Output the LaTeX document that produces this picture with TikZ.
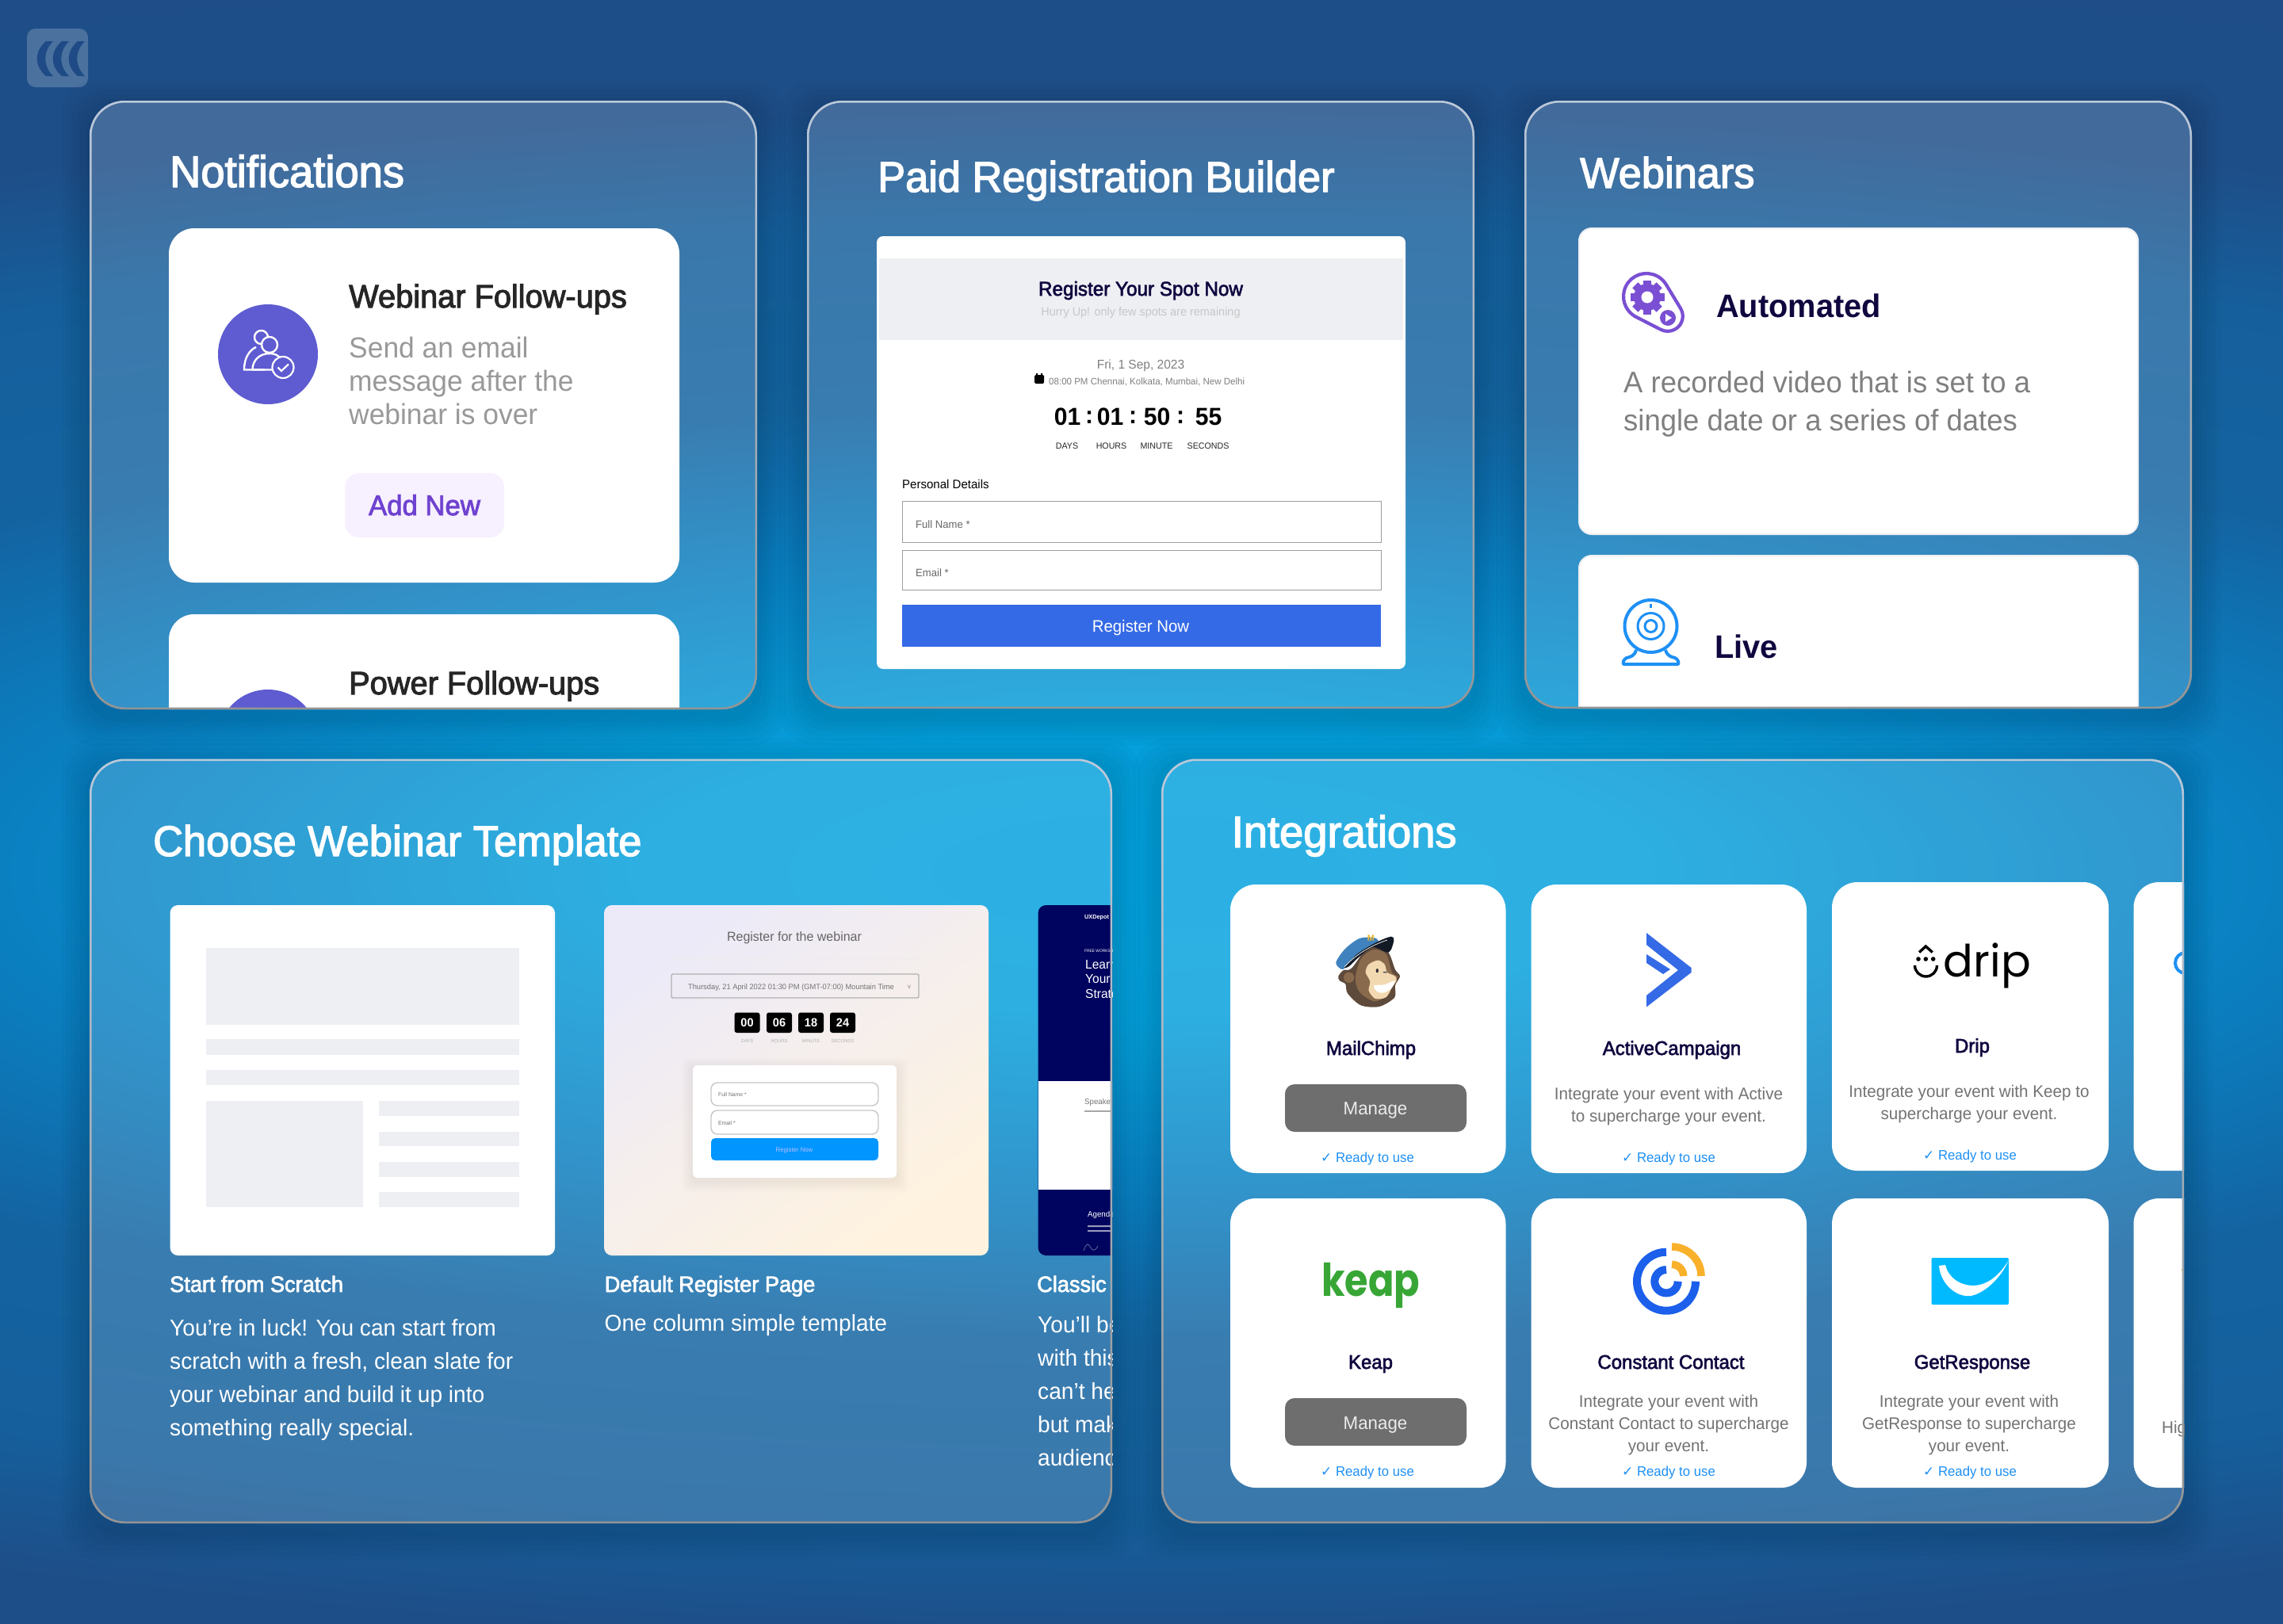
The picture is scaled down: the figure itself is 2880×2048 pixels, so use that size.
\documentclass[tikz,border=0pt]{standalone}
\usepackage{fontspec}
\setmainfont[FakeStretch=0.97]{Liberation Sans}
\newfontfamily\medfont[FakeBold=2.5,FakeStretch=0.97]{Liberation Sans}
\newfontfamily\symfont{DejaVu Sans}
\newfontfamily\dripfont{Poppins}
\newfontfamily\keapfont[FakeStretch=0.84]{Poppins}
\newcommand{\fs}[1]{\fontsize{#1}{#1}\selectfont}

\definecolor{navyink}{HTML}{10073F}
\definecolor{softgrey}{HTML}{EEEFF3}
\definecolor{bandviolet}{HTML}{5F5BD1}
\definecolor{gearviolet}{HTML}{7A4FD3}
\definecolor{addviolet}{HTML}{6F42D0}
\definecolor{addtint}{HTML}{F7F0FE}
\definecolor{liveblue}{HTML}{1E90F5}
\definecolor{regblue}{HTML}{356AE6}
\definecolor{ccblue}{HTML}{1B5FEB}
\definecolor{ccgold}{HTML}{F9B02B}
\definecolor{deepnavy}{HTML}{01045E}
\definecolor{bgdark}{HTML}{1E4A85}
\definecolor{tinta}{HTML}{ECEAF8}
\definecolor{tintb}{HTML}{FFDFE1}
\definecolor{tintc}{HTML}{FFF3DF}
\definecolor{formblue}{HTML}{0095FF}
\definecolor{keapgreen}{HTML}{37A635}
\definecolor{getblue}{HTML}{00BAFF}
\definecolor{chimpcap}{HTML}{3F82BD}
\definecolor{chimpbrim}{HTML}{121A26}
\definecolor{chimpm}{HTML}{F2B729}
\definecolor{furdark}{HTML}{5E4A3B}
\definecolor{furmid}{HTML}{8A6A4C}
\definecolor{furlight}{HTML}{F3D9B1}

\pgfdeclareradialshading{backglow}{\pgfpoint{0bp}{0bp}}{
    rgb(0bp)=(0.016,0.635,0.875);
    rgb(4bp)=(0.02,0.627,0.863);
    rgb(9bp)=(0.039,0.502,0.757);
    rgb(13.3bp)=(0.078,0.388,0.631);
    rgb(18bp)=(0.082,0.373,0.612);
    rgb(21.6bp)=(0.118,0.306,0.533);
    rgb(50bp)=(0.118,0.29,0.522)}

\tikzset{
    base/.style={inner sep=0pt,anchor=base west},
    mid/.style={inner sep=0pt,anchor=base},
    panelhead/.style={base,text=white,font={\medfont\fs{54}}},
    cardhead/.style={base,text=navyink,font={\bfseries\fs{41}}},
    greyline/.style={base,text=black!40,font=\fs{36.5}},
    thumbhead/.style={base,text=white,font={\medfont\fs{28}}},
    thumbline/.style={base,text=white,font=\fs{29}},
    intname/.style={mid,text=navyink,font={\medfont\fs{24.7}}},
    intline/.style={mid,text=black!55,font=\fs{21.3}},
    ready/.style={mid,text=liveblue,font=\fs{17.3}},
    manage/.style={fill=black!57,rounded corners=12pt},
    whitecard/.style={fill=white,rounded corners=32pt},
    tplbar/.style={fill=softgrey},
    countbox/.style={fill=black,rounded corners=3pt},
    countnum/.style={inner sep=0pt,text=white,font={\bfseries\fs{15}}},
    countlab/.style={inner sep=0pt,text=black!30,font=\fs{6}},
}

\newcommand{\glasspanel}[4]{
    \foreach \d in {6,12,...,36}
        \fill[black,fill opacity=.018,even odd rule,rounded corners=44pt]
            ({#1-\d},{#2-\d+10}) rectangle ({#3+\d},{#4+\d+10}) (#1,#2) rectangle (#3,#4);
    \fill[white,fill opacity=.16,rounded corners=44pt] (#1,#2) rectangle (#3,#4);
}
\newcommand{\glassrim}[4]{
    \shade[top color=white!70!bgdark,bottom color=black!42,even odd rule]
        [rounded corners=44pt] (#1,#2) rectangle (#3,#4)
        [rounded corners=42pt] ({#1+2.5},{#2+2.5}) rectangle ({#3-2.5},{#4-2.5});
}

\begin{document}
\begin{tikzpicture}[x=1pt,y=-1pt]
    \useasboundingbox (0,0) rectangle (2880,2048);
    \begin{scope}
        \clip (0,0) rectangle (2880,2048);
        \shade[shading=backglow] (-2560,-24) rectangle (5440,2224);
    \end{scope}

    % corner mark
    \fill[white,fill opacity=.2,rounded corners=11pt] (34,36) rectangle (111,110);
    \foreach \x in {0,20,40}
        \fill[bgdark] ({58+\x},52) .. controls ({43+\x},65) and ({43+\x},83) .. ({58+\x},96)
            -- ({67+\x},96) .. controls ({54+\x},83) and ({54+\x},65) .. ({67+\x},52) -- cycle;

    % notifications
    \glasspanel{113}{127}{955}{895}
    \begin{scope}
        \clip[rounded corners=44pt] (113,127) rectangle (955,895);
        \fill[whitecard] (213,288) rectangle (857,735);
        \fill[whitecard] (213,775) rectangle (857,1222);
        \fill[bandviolet] (338,447) circle (63);
        \fill[bandviolet] (338,933) circle (63);
        \node[base,text=black!85,font={\medfont\fs{41}}] (followa) at (440,388) {Webinar Follow-ups};
        \node[base,text=black!85,font={\medfont\fs{41}}] (followb) at (440,876) {Power Follow-ups};
    \end{scope}
    \node[panelhead,font={\medfont\fs{56}}] (nothead) at (214,236) {Notifications};
    \draw[white,line width=2.4] (329.5,425.5) circle (8.5);
    \draw[white,line width=2.4] (334,466.5) -- (308,466.5) .. controls (308,450) and (316,441) .. (323,438);
    \fill[bandviolet] (340,435) circle (10);
    \draw[white,line width=2.4] (340,435) circle (10);
    \draw[white,line width=2.4] (345,466.5) -- (318.5,466.5) .. controls (318.5,455) and (327,446) .. (340,446) .. controls (346,446) and (350,448) .. (353,451);
    \fill[bandviolet] (357,463.5) circle (14);
    \draw[white,line width=2.2] (357,463.5) circle (13.5);
    \draw[white,line width=2.2] (350.5,463.5) -- (355,468) -- (364,459.5);
    \node[greyline] (senda) at (440,451) {Send an email};
    \node[greyline] (sendb) at (440,493) {message after the};
    \node[greyline] (sendc) at (440,535) {webinar is over};
    \fill[addtint,rounded corners=18pt] (435,597) rectangle (636,678);
    \node[mid,text=addviolet,font={\medfont\fs{35.8}}] (addnew) at (535.5,650) {Add New};
    \glassrim{113}{127}{955}{895}

    % paid registration
    \glasspanel{1018}{127}{1860}{894}
    \node[panelhead] (paidhead) at (1107,242) {Paid Registration Builder};
    \fill[white,rounded corners=8pt] (1106,298) rectangle (1773,844);
    \fill[softgrey] (1109,326) rectangle (1770,429);
    \node[mid,text=navyink,font={\medfont\fs{25}}] (regspot) at (1439,373) {Register Your Spot Now};
    \node[mid,text=black!22,font=\fs{14.9}] (hurry) at (1439,398) {Hurry Up! only few spots are remaining};
    \node[mid,text=black!50,font=\fs{16}] (regdate) at (1439,465) {Fri, 1 Sep, 2023};
    \fill[black,rounded corners=1.5pt] (1305,473) rectangle (1317,484);
    \fill[black] (1307,471) rectangle (1309,475) (1313,471) rectangle (1315,475);
    \node[base,text=black!50,font=\fs{11.9}] (regcity) at (1323,485) {08:00 PM Chennai, Kolkata, Mumbai, New Delhi};
    \node[mid,font={\bfseries\fs{31}}] (cda) at (1346.5,536) {01};
    \node[mid,font={\bfseries\fs{31}}] (cdb) at (1374,534) {:};
    \node[mid,font={\bfseries\fs{31}}] (cdc) at (1400.5,536) {01};
    \node[mid,font={\bfseries\fs{31}}] (cdd) at (1429,534) {:};
    \node[mid,font={\bfseries\fs{31}}] (cde) at (1459.5,536) {50};
    \node[mid,font={\bfseries\fs{31}}] (cdf) at (1489,534) {:};
    \node[mid,font={\bfseries\fs{31}}] (cdg) at (1524.5,536) {55};
    \node[mid,text=black!85,font=\fs{11}] (labda) at (1346,566) {DAYS};
    \node[mid,text=black!85,font=\fs{11}] (labho) at (1402,566) {HOURS};
    \node[mid,text=black!85,font=\fs{11}] (labmi) at (1459,566) {MINUTE};
    \node[mid,text=black!85,font=\fs{11}] (labse) at (1524,566) {SECONDS};
    \node[base,font=\fs{15.5}] (persdet) at (1138,616) {Personal Details};
    \draw[black!38,line width=1] (1138,632) rectangle (1742,684);
    \draw[black!38,line width=1] (1138,694) rectangle (1742,744);
    \node[base,text=black!60,font=\fs{13.5}] (fullname) at (1155,666) {Full Name *};
    \node[base,text=black!60,font=\fs{13.5}] (emailin) at (1155,727) {Email *};
    \fill[regblue] (1138,763) rectangle (1742,816);
    \node[mid,text=white,font=\fs{21}] (regnow) at (1439,797) {Register Now};
    \glassrim{1018}{127}{1860}{894}

    % webinars
    \glasspanel{1923}{127}{2765}{894}
    \node[panelhead] (webhead) at (1993,237) {Webinars};
    \begin{scope}
        \clip[rounded corners=44pt] (1923,127) rectangle (2765,894);
        \filldraw[fill=white,draw=softgrey,line width=2,rounded corners=16pt] (1992,288) rectangle (2697,674);
        \filldraw[fill=white,draw=softgrey,line width=2,rounded corners=16pt] (1992,701) rectangle (2697,1090);
    \end{scope}
    \begin{scope}[shift={(2077,374)},rotate=-43]
        \draw[gearviolet,line width=4.2,line join=round] (74:29) arc[start angle=74,end angle=286,radius=29]
            -- (41.8,-18.3) arc[start angle=-74,end angle=74,radius=19] -- cycle;
    \end{scope}
    \foreach \a in {0,45,90,135}
        \fill[gearviolet,rotate around={\a:(2078,375)}] (2073,353.5) rectangle (2083,396.5);
    \fill[gearviolet] (2078,375) circle (17);
    \fill[white] (2078,375) circle (7.5);
    \fill[gearviolet] (2104,401) circle (10);
    \fill[white] (2101,396) -- (2101,406) -- (2109,401) -- cycle;
    \node[cardhead] (autohead) at (2165,400) {Automated};
    \node[base,text=black!50,font=\fs{37.6}] (autoa) at (2048,495) {A recorded video that is set to a};
    \node[base,text=black!50,font=\fs{37.6}] (autob) at (2048,543.5) {single date or a series of dates};
    \draw[liveblue,line width=4] (2082.5,790) circle (33);
    \draw[liveblue,line width=3] (2082.5,790) circle (16.5);
    \draw[liveblue,line width=3] (2082.5,790) circle (7.5);
    \draw[liveblue,line width=2.5] (2082.5,762) -- (2082.5,767);
    \draw[liveblue,line width=4,line join=round] (2064,820) .. controls (2062,828) and (2056,829) .. (2052,830)
        .. controls (2048,832) and (2047,836) .. (2048,838) -- (2117,838)
        .. controls (2118,836) and (2117,832) .. (2113,830)
        .. controls (2109,829) and (2103,828) .. (2101,820);
    \node[cardhead] (livehead) at (2163,830) {Live};
    \glassrim{1923}{127}{2765}{894}

    % templates
    \glasspanel{113}{957.5}{1403}{1922}
    \node[panelhead] (tplhead) at (193,1080) {Choose Webinar Template};
    \fill[white,rounded corners=10pt] (214.5,1142) rectangle (700,1584);
    \fill[tplbar] (260,1196) rectangle (655,1292.5);
    \fill[tplbar] (260,1311) rectangle (655,1331);
    \fill[tplbar] (260,1350) rectangle (655,1369);
    \fill[tplbar] (260,1389) rectangle (458,1523);
    \fill[tplbar] (478,1389) rectangle (655,1408);
    \fill[tplbar] (478,1427.5) rectangle (655,1446);
    \fill[tplbar] (478,1466) rectangle (655,1485);
    \fill[tplbar] (478,1504) rectangle (655,1523);
    \node[thumbhead] (scrhead) at (214,1630) {Start from Scratch};
    \node[thumbline] (scra) at (214,1685) {You're in luck! You can start from};
    \node[thumbline] (scrb) at (214,1727) {scratch with a fresh, clean slate for};
    \node[thumbline] (scrc) at (214,1769) {your webinar and build it up into};
    \node[thumbline] (scrd) at (214,1811) {something really special.};

    \shade[top color=tinta,middle color=tintb,bottom color=tintc,shading angle=35,rounded corners=10pt]
        (762,1142) rectangle (1247,1584);
    \node[mid,text=black!60,font=\fs{16.5}] (defhead) at (1002,1187.5) {Register for the webinar};
    \draw[black!8,line width=1] (847.5,1209) -- (1159,1209);
    \draw[black!30,line width=1.4,rounded corners=2pt] (847,1229) rectangle (1159,1259);
    \node[mid,text=black!55,font=\fs{9.6}] (defdate) at (998,1248) {Thursday, 21 April 2022 01:30 PM (GMT-07:00) Mountain Time};
    \node[mid,text=black!50,font=\fs{8}] (defarrow) at (1147,1247) {v};
    \fill[countbox] (926.5,1277.5) rectangle (958.5,1303);
    \fill[countbox] (967,1277.5) rectangle (999,1303);
    \fill[countbox] (1007,1277.5) rectangle (1039,1303);
    \fill[countbox] (1047,1277.5) rectangle (1079,1303);
    \node[countnum] (cba) at (942.5,1290.5) {00};
    \node[countnum] (cbb) at (983,1290.5) {06};
    \node[countnum] (cbc) at (1023,1290.5) {18};
    \node[countnum] (cbd) at (1063,1290.5) {24};
    \node[countlab] (cla) at (942.5,1313) {DAYS};
    \node[countlab] (clb) at (983,1313) {HOURS};
    \node[countlab] (clc) at (1023,1313) {MINUTE};
    \node[countlab] (cld) at (1063,1313) {SECONDS};
    \foreach \d in {2,4,...,14}
        \fill[black,fill opacity=.008,rounded corners=8pt] ({874-\d},{1344-\d+4}) rectangle ({1131+\d},{1486+\d+4});
    \fill[white,rounded corners=6pt] (874,1344) rectangle (1131,1486);
    \draw[black!22,line width=1.4,rounded corners=8pt] (897,1366) rectangle (1108,1395);
    \draw[black!22,line width=1.4,rounded corners=8pt] (897,1401) rectangle (1108,1431);
    \node[base,text=black!55,font=\fs{7}] (deffull) at (906,1383) {Full Name *};
    \node[base,text=black!55,font=\fs{7}] (defmail) at (906,1419) {Email *};
    \fill[formblue,rounded corners=5pt] (897,1436) rectangle (1108,1464);
    \node[mid,text=white!75!blue,font=\fs{8}] (defreg) at (1002,1453) {Register Now};
    \node[thumbhead] (defname) at (762.5,1630) {Default Register Page};
    \node[thumbline] (defline) at (762.5,1679) {One column simple template};

    \begin{scope}
        \clip[rounded corners=44pt] (113,957.5) rectangle (1403,1922);
        \fill[deepnavy,rounded corners=10pt] (1309.5,1142) rectangle (1460,1584);
        \fill[white] (1309.5,1364) rectangle (1460,1500.5);
        \node[base,text=white,font={\bfseries\fs{7.5}}] (clsbrand) at (1368,1159) {UXDepot};
        \node[base,text=white!80,font=\fs{5}] (clsfree) at (1368,1201) {FREE WORKSHOP};
        \node[base,text=white!85,font=\fs{16}] (clslearn) at (1369,1222) {Learn};
        \node[base,text=white!85,font=\fs{16}] (clsyour) at (1369,1240) {Your};
        \node[base,text=white!85,font=\fs{16}] (clsstrat) at (1369,1259) {Strategy};
        \node[base,text=black!55,font=\fs{10}] (clsspeak) at (1368,1393) {Speaker};
        \fill[black!35] (1368,1401) rectangle (1403,1403);
        \node[base,text=white!85,font=\fs{10}] (clsagen) at (1372,1535) {Agenda};
        \fill[white!60!deepnavy] (1372,1546) rectangle (1403,1548) (1372,1552) rectangle (1403,1554);
        \draw[white!40!deepnavy,line width=.8] (1367,1578) .. controls (1375,1555) and (1375,1590) .. (1385,1572);
        \node[thumbhead] (clsname) at (1308,1630) {Classic};
        \node[thumbline] (clsa) at (1309,1681) {You'll be};
        \node[thumbline] (clsb) at (1309,1723) {with this};
        \node[thumbline] (clsc) at (1309,1765) {can't help};
        \node[thumbline] (clsd) at (1309,1807) {but make};
        \node[thumbline] (clse) at (1309,1849) {audience};
    \end{scope}
    \glassrim{113}{957.5}{1403}{1922}

    % integrations
    \glasspanel{1465}{957.5}{2755}{1922}
    \node[panelhead,font={\medfont\fs{56}}] (inthead) at (1553.5,1069) {Integrations};
    \begin{scope}
        \clip[rounded corners=44pt] (1465,957.5) rectangle (2755,1922);
        \fill[whitecard] (1552,1116) rectangle (1899.5,1480);
        \fill[whitecard] (1931.5,1116) rectangle (2279,1480);
        \fill[whitecard] (2311,1113) rectangle (2660,1477);
        \fill[whitecard] (2691.5,1113) rectangle (3040,1477);
        \fill[whitecard] (1552,1512) rectangle (1899.5,1877);
        \fill[whitecard] (1931.5,1512) rectangle (2279,1877);
        \fill[whitecard] (2311,1512) rectangle (2660,1877);
        \fill[whitecard] (2691.5,1512) rectangle (3040,1877);
        \draw[liveblue,line width=4] (2757,1202) arc[start angle=-90,end angle=-270,radius=13];
        \node[base,text=black!55,font=\fs{21.3}] (higline) at (2727,1808) {Higher};
        \fill[ccgold] (2752,1601) rectangle (2755,1603);
    \end{scope}

    % monkey head
    \begin{scope}[shift={(1660,1160)},scale=1/3]
        \fill[furdark] plot[smooth cycle] coordinates {(85,215) (105,192) (135,185) (200,105) (270,120) (300,190) (318,215) (300,250) (298,295) (240,330) (170,325) (120,280) (112,245) (90,232)};
        \fill[furmid] plot[smooth cycle] coordinates {(150,215) (170,150) (215,115) (265,130) (288,200) (310,218) (285,240) (280,280) (225,310) (175,285) (155,255)};
        \fill[furmid] (125,220) circle (20);
        \fill[furlight] plot[smooth cycle] coordinates {(188,200) (200,170) (235,155) (260,170) (270,200) (300,215) (305,232) (285,262) (265,295) (225,300) (200,270) (205,235)};
        \fill[white] plot[smooth cycle] coordinates {(220,250) (260,247) (298,232) (285,262) (255,278) (230,272)};
        \fill[black!80] (232,194) ellipse (5 and 8);
        \fill[black!60] (262,200) ellipse (9 and 3);
        \fill[chimpcap] plot[smooth cycle] coordinates {(76,163) (110,112) (165,72) (222,70) (232,90) (150,140) (112,182) (95,188)};
        \fill[chimpbrim] plot[smooth cycle] coordinates {(108,180) (160,128) (232,85) (285,65) (295,80) (275,125) (215,105) (160,145) (125,178)};
        \draw[white,line width=.7] (108,180) .. controls (140,145) and (190,105) .. (270,78);
        \node[inner sep=0pt,text=chimpm,font={\bfseries\fs{11}}] (chimpcapm) at (208,72) {M};
    \end{scope}
    \node[intname] (nama) at (1729.5,1331) {MailChimp};
    \fill[manage] (1621,1368) rectangle (1850,1428);
    \node[mid,text=white!92!black,font=\fs{23}] (mana) at (1735,1406) {Manage};
    \node[ready] (reada) at (1725,1466) {{\symfont\fs{17}✓} Ready to use};

    % chevron mark
    \fill[regblue] (2077,1177) -- (2133.5,1221) -- (2133.5,1227) -- (2077,1270.5) -- (2077,1256)
        -- (2117,1224) -- (2077,1192) -- cycle;
    \fill[regblue] (2077,1204) -- (2107,1223) -- (2098,1229) -- (2077,1215) -- cycle;
    \node[intname] (namb) at (2109,1331) {ActiveCampaign};
    \node[intline] (descba) at (2105,1387) {Integrate your event with Active};
    \node[intline] (descbb) at (2105,1415) {to supercharge your event.};
    \node[ready] (readb) at (2105,1466) {{\symfont\fs{17}✓} Ready to use};

    % smiling drop
    \draw[black,line width=3.4] (2421,1201.5) -- (2429.3,1194) -- (2437.7,1201.5);
    \fill[black] (2420,1210) circle (2.8) (2429.3,1210) circle (2.8) (2438.7,1210) circle (2.8);
    \draw[black,line width=3.4] (2415.5,1218) arc[start angle=180,end angle=0,radius=14];
    \node[base,font={\dripfont\fs{56}}] (driptext) at (2451.5,1232.7) {drip};
    \node[intname] (namc) at (2488,1328) {Drip};
    \node[intline] (descca) at (2484,1384) {Integrate your event with Keep to};
    \node[intline] (desccb) at (2484,1412) {supercharge your event.};
    \node[ready] (readc) at (2485,1463) {{\symfont\fs{17}✓} Ready to use};

    \node[base,text=keapgreen,font={\keapfont\bfseries\fs{57}}] (keaptext) at (1667,1635.7) {keap};
    \node[intname] (namd) at (1729,1727) {Keap};
    \fill[manage] (1621,1764) rectangle (1850,1824);
    \node[mid,text=white!92!black,font=\fs{23}] (mand) at (1735,1803) {Manage};
    \node[ready] (readd) at (1725,1862) {{\symfont\fs{17}✓} Ready to use};

    % spiral mark
    \draw[ccblue,line width=10] (2102,1579.7) arc[start angle=-90,end angle=-360,radius=37];
    \draw[ccblue,line width=10] (2102,1602) arc[start angle=-90,end angle=-360,radius=14.7];
    \draw[ccgold,line width=9.5] (2109,1573) arc[start angle=-90,end angle=0,radius=37];
    \draw[ccgold,line width=9.5] (2109,1595.3) arc[start angle=-90,end angle=0,radius=14.7];
    \node[intname] (name) at (2108,1727) {Constant Contact};
    \node[intline] (descea) at (2105,1775) {Integrate your event with};
    \node[intline] (desceb) at (2105,1803) {Constant Contact to supercharge};
    \node[intline] (descec) at (2105,1831) {your event.};
    \node[ready] (reade) at (2105,1862) {{\symfont\fs{17}✓} Ready to use};

    % envelope mark
    \fill[getblue,rounded corners=2pt] (2436.5,1587) rectangle (2534,1646);
    \fill[white] (2446,1597) .. controls (2448,1622) and (2472,1640) .. (2490,1634) .. controls (2508,1628) and (2525,1610) .. (2534,1590)
        .. controls (2524,1606) and (2510,1621) .. (2490,1622) .. controls (2472,1622) and (2458,1612) .. (2454,1596) -- cycle;
    \node[intname] (namf) at (2488,1727) {GetResponse};
    \node[intline] (descfa) at (2484,1775) {Integrate your event with};
    \node[intline] (descfb) at (2484,1803) {GetResponse to supercharge};
    \node[intline] (descfc) at (2484,1831) {your event.};
    \node[ready] (readf) at (2485,1862) {{\symfont\fs{17}✓} Ready to use};
    \glassrim{1465}{957.5}{2755}{1922}
\end{tikzpicture}
\end{document}
